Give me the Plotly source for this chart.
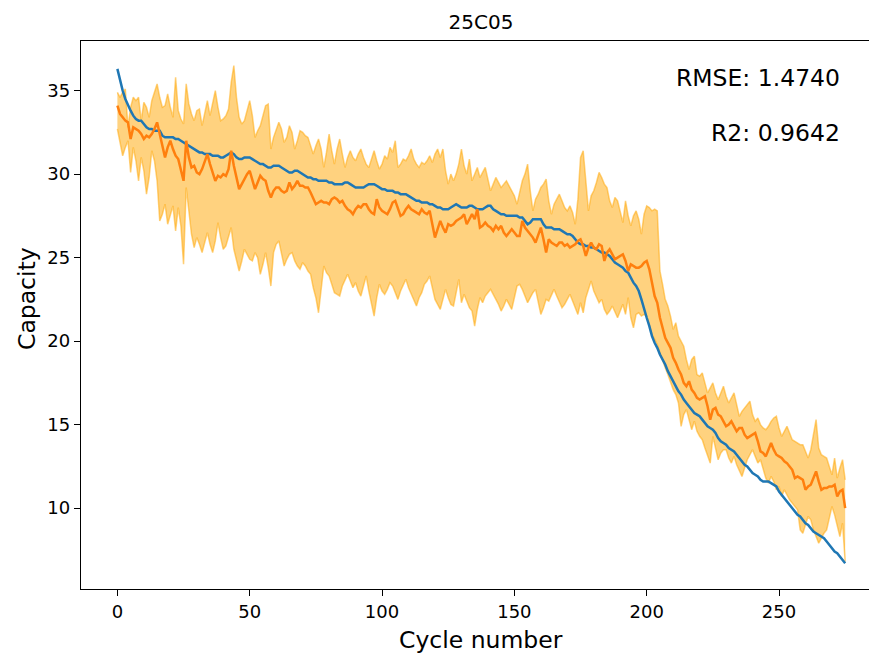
import plotly.graph_objects as go

title_text = "25C05"
x_label = "Cycle number"
y_label = "Capacity"
rmse_text = "RMSE: 1.4740"
r2_text = "R2: 0.9642"

true_capacity = [
    36.3,35.6,35.0,34.5,34.1,33.8,33.5,33.3,33.2,33.2,
    33.0,32.8,32.7,32.7,32.6,32.6,32.6,32.3,32.2,32.2,
    32.2,32.2,32.1,32.1,32.0,31.9,31.8,31.7,31.6,31.5,
    31.4,31.3,31.3,31.2,31.2,31.2,31.1,31.1,31.1,31.0,
    31.0,31.1,31.2,31.3,31.2,31.0,30.9,30.9,31.0,31.0,
    31.0,30.9,30.8,30.7,30.6,30.6,30.5,30.4,30.4,30.5,
    30.5,30.5,30.4,30.3,30.2,30.1,30.1,30.2,30.2,30.1,
    30.0,29.9,29.8,29.8,29.7,29.7,29.6,29.6,29.6,29.6,
    29.5,29.5,29.4,29.4,29.4,29.4,29.5,29.5,29.4,29.3,
    29.2,29.2,29.2,29.2,29.3,29.4,29.4,29.4,29.3,29.2,
    29.1,29.1,29.0,29.0,29.0,28.9,28.9,28.8,28.8,28.8,
    28.7,28.6,28.5,28.4,28.4,28.3,28.3,28.3,28.2,28.2,
    28.1,28.0,28.0,27.9,27.9,27.9,28.0,28.1,28.2,28.1,
    28.0,28.0,28.0,28.1,28.1,28.0,27.9,27.9,27.9,28.0,
    28.1,28.1,27.9,27.8,27.7,27.6,27.6,27.5,27.5,27.5,
    27.5,27.5,27.4,27.4,27.2,27.0,27.1,27.3,27.3,27.3,
    27.3,27.0,26.8,26.8,26.8,26.7,26.7,26.7,26.6,26.5,
    26.4,26.4,26.3,26.1,25.9,25.8,25.8,25.7,25.7,25.6,
    25.6,25.5,25.4,25.3,25.3,25.2,25.1,24.9,24.7,24.6,
    24.5,24.4,24.2,24.1,23.8,23.5,23.3,23.0,22.5,21.9,
    21.4,20.9,20.3,19.9,19.6,19.2,18.9,18.6,18.2,17.9,
    17.6,17.3,17.0,16.8,16.5,16.3,16.1,15.9,15.7,15.6,
    15.5,15.3,15.1,14.9,14.8,14.7,14.5,14.2,14.0,13.9,
    13.8,13.6,13.5,13.4,13.2,13.0,12.8,12.6,12.5,12.3,
    12.1,12.0,11.9,11.7,11.6,11.6,11.6,11.5,11.4,11.3,
    11.0,10.8,10.6,10.4,10.2,10.0,9.8,9.6,9.5,9.3,
    9.1,9.0,8.8,8.6,8.5,8.4,8.3,8.2,8.0,7.8,
    7.6,7.4,7.3,7.1,6.9,6.7,
]

pred_capacity = [
    34.1,33.6,33.4,33.2,33.1,32.1,32.8,32.7,32.6,32.4,
    32.1,32.3,32.2,32.4,32.7,33.1,32.4,31.6,31.0,31.6,
    32.0,31.5,31.1,30.9,30.3,29.6,32.0,31.0,30.4,30.5,
    30.1,30.0,30.3,30.8,31.2,30.6,30.1,29.6,29.9,29.8,
    30.0,29.9,30.3,31.4,30.5,29.8,29.1,29.4,29.7,30.0,
    30.2,29.6,29.1,29.5,29.9,29.7,29.6,29.0,28.6,29.0,
    29.2,29.2,29.0,28.9,29.0,29.5,29.1,29.3,29.6,29.3,
    29.3,29.2,29.2,28.9,28.5,28.2,28.3,28.4,28.3,28.3,
    28.2,28.5,28.6,28.5,28.3,28.4,28.1,27.9,27.8,27.6,
    27.9,28.1,28.0,28.2,28.2,27.9,27.7,27.6,28.5,28.0,
    27.8,27.7,27.6,27.9,28.3,28.4,28.0,27.5,27.6,27.9,
    28.1,27.9,27.8,27.7,27.6,27.9,27.7,27.6,27.8,27.0,
    26.2,26.7,27.2,26.8,26.5,27.0,26.9,27.0,27.2,27.3,
    27.4,27.6,27.0,27.3,27.6,27.3,27.9,26.8,26.9,27.1,
    26.9,26.8,26.6,26.9,26.7,26.9,26.5,26.3,26.5,26.7,
    26.5,26.3,26.3,27.2,26.8,26.6,26.4,26.2,25.9,26.3,
    26.8,26.1,25.3,26.1,25.9,25.8,25.7,25.9,25.9,25.7,
    25.8,25.6,25.7,25.8,26.0,26.1,25.7,25.1,25.6,25.9,
    25.6,25.5,25.8,25.7,24.8,25.3,25.5,25.2,24.9,25.0,
    25.1,25.2,24.8,24.2,24.6,24.5,24.4,24.4,24.5,24.7,
    24.8,24.3,23.6,22.7,22.3,21.4,20.8,20.2,19.9,19.6,
    19.0,18.7,18.3,18.0,17.5,17.3,17.6,17.1,16.9,16.6,
    16.5,16.6,16.7,16.1,15.3,15.9,16.0,15.6,15.5,15.2,
    14.9,15.0,15.2,14.9,14.6,14.8,14.8,14.4,14.2,14.3,
    14.4,14.5,14.0,13.4,13.3,13.1,13.5,13.9,13.5,13.2,
    13.1,13.0,12.8,12.7,12.5,12.3,11.8,11.9,11.8,11.7,
    11.1,11.3,11.4,11.8,12.2,11.6,11.1,11.2,11.2,11.3,
    11.3,11.4,10.7,11.0,11.1,10.0,
]

upper_bound = [
    34.9,34.6,34.9,35.1,32.8,34.0,34.6,34.4,34.6,33.2,
    34.3,34.0,33.4,34.4,34.9,35.4,34.6,34.0,34.1,34.8,
    34.0,33.4,35.8,33.8,33.3,33.0,35.4,34.2,33.6,33.2,
    33.8,33.9,32.9,33.6,34.4,33.5,34.2,35.0,34.0,33.2,
    33.3,33.5,33.9,35.5,36.5,34.6,33.4,33.0,33.2,33.8,
    34.4,33.5,32.2,32.6,32.9,33.5,34.1,34.2,31.5,32.2,
    32.6,33.1,32.7,31.9,32.2,32.9,32.5,31.5,32.0,32.6,
    32.5,32.3,32.2,31.7,31.2,31.7,32.1,31.5,30.4,31.3,
    32.4,31.4,30.6,31.5,32.1,31.2,30.4,31.0,31.4,31.0,
    30.8,31.2,31.5,31.0,30.6,30.4,30.9,31.4,30.8,30.3,
    30.6,31.1,30.9,31.6,31.3,32.0,30.4,30.6,30.9,30.8,
    31.1,31.5,30.9,30.6,30.4,30.7,30.6,30.8,31.1,30.7,
    31.2,31.5,31.0,31.5,30.2,29.4,30.0,29.6,30.0,30.6,
    31.5,30.5,30.0,30.9,29.6,30.0,30.4,29.8,30.1,30.4,
    29.7,29.0,29.4,29.8,29.5,29.2,29.4,29.6,29.3,29.0,
    28.7,28.2,28.9,29.6,30.0,30.6,29.0,27.8,28.5,28.8,
    29.2,29.4,29.7,28.4,27.6,28.2,28.5,28.8,28.4,28.0,
    27.8,28.1,27.7,27.0,28.5,31.0,31.4,29.6,27.8,28.7,
    29.0,29.5,30.1,29.8,29.4,29.2,28.4,28.0,28.6,28.4,
    27.8,27.1,28.4,27.5,26.9,27.5,27.8,27.3,26.4,27.6,
    28.1,28.0,27.8,27.9,27.8,24.2,23.4,22.5,22.1,21.5,
    20.7,21.1,20.3,20.0,19.7,18.9,18.3,18.9,19.1,18.0,
    17.9,18.1,17.5,16.9,17.2,17.5,16.9,16.5,16.9,17.3,
    16.7,16.3,16.6,16.9,16.2,15.5,15.8,16.0,16.2,16.4,
    15.6,15.2,15.4,15.0,14.8,14.7,14.9,15.2,15.4,15.5,
    14.8,14.3,14.6,14.9,14.5,14.1,14.0,13.9,13.8,13.8,
    13.4,13.0,13.5,14.4,15.3,13.6,13.2,13.1,13.0,12.5,
    12.0,13.0,11.8,12.4,12.9,11.7,
]

lower_bound = [
    32.7,32.0,31.1,31.6,32.0,30.1,31.6,30.8,29.6,31.0,
    30.2,28.8,29.8,31.4,30.8,29.6,27.2,27.6,28.2,27.0,
    27.5,28.1,26.6,28.0,26.9,24.6,29.2,27.8,26.4,25.6,
    26.2,25.8,25.3,25.9,26.5,25.8,25.3,26.0,27.1,26.2,
    25.5,25.7,26.2,26.8,25.5,24.9,24.2,24.8,25.5,25.2,
    24.9,24.8,25.3,25.0,24.0,24.6,25.3,24.4,23.3,25.3,
    25.8,26.0,25.2,24.5,24.9,25.2,25.3,24.8,24.5,24.3,
    24.7,24.5,24.2,24.0,23.2,22.6,21.7,23.0,24.5,24.1,
    23.9,23.4,22.9,22.8,22.7,23.3,23.7,24.0,23.6,23.2,
    23.5,23.0,22.7,23.3,23.9,23.0,22.2,21.5,22.6,23.4,
    23.0,22.8,23.1,23.5,23.3,22.9,22.5,23.0,23.4,23.7,
    23.2,22.8,22.5,22.1,22.6,22.9,23.4,23.6,23.9,23.2,
    22.5,22.2,21.9,22.5,23.1,22.6,22.2,22.1,22.8,23.7,
    22.3,22.8,22.4,22.0,21.8,20.9,21.9,22.6,22.3,22.7,
    22.9,23.1,22.8,22.5,22.2,21.8,22.1,22.5,22.2,21.9,
    22.6,23.3,23.4,23.1,22.7,22.3,22.6,22.9,23.1,22.4,
    21.6,22.0,22.5,22.4,22.8,23.1,22.7,22.3,22.0,22.2,
    22.5,22.8,22.4,22.0,21.6,22.3,21.7,22.6,23.1,23.6,
    23.0,22.6,22.3,22.5,21.9,21.6,21.8,22.1,21.7,21.4,
    21.8,22.2,21.6,22.6,21.4,20.8,21.6,21.7,21.5,21.6,
    21.5,20.9,20.4,20.1,19.8,19.3,18.8,18.4,18.0,17.5,
    17.1,16.8,16.3,14.9,15.6,15.9,15.3,14.7,15.2,14.6,
    14.3,14.1,13.6,13.2,12.7,14.3,13.6,12.9,13.3,13.5,
    13.5,13.0,12.7,13.1,12.6,12.2,11.9,12.4,12.9,13.2,
    13.5,13.1,12.7,12.9,12.3,11.8,11.5,11.9,11.6,11.1,
    11.3,10.7,11.1,10.8,10.5,10.3,10.1,9.9,8.7,8.5,
    9.0,9.5,9.3,8.7,8.3,7.9,8.2,8.5,8.7,9.4,
    10.1,9.6,9.0,8.3,9.1,6.8,
]

cycles = list(range(len(true_capacity)))

FONT = "DejaVu Sans, Liberation Sans, sans-serif"
band_line = "rgba(255,165,0,0.5)"
band_fill = "rgba(255,165,0,0.5)"

fig = go.Figure()
fig.add_trace(go.Scatter(x=cycles, y=lower_bound, mode="lines",
                         line=dict(color=band_line, width=1.5),
                         showlegend=False, hoverinfo="skip"))
fig.add_trace(go.Scatter(x=cycles, y=upper_bound, mode="lines",
                         line=dict(color=band_line, width=1.5),
                         fill="tonexty", fillcolor=band_fill,
                         showlegend=False, hoverinfo="skip"))
fig.add_trace(go.Scatter(x=cycles, y=true_capacity, mode="lines",
                         line=dict(color="#1f77b4", width=2.5),
                         showlegend=False))
fig.add_trace(go.Scatter(x=cycles, y=pred_capacity, mode="lines",
                         line=dict(color="#ff7f0e", width=2.5),
                         showlegend=False))

axis_common = dict(
    showgrid=False, zeroline=False, showline=True, linecolor="black",
    linewidth=1.3, ticks="outside", ticklen=6, tickwidth=1.3,
    tickcolor="black", tickfont=dict(family=FONT, size=18, color="black"),
)

fig.update_xaxes(range=[-13.75, 284.0], tickvals=[0, 50, 100, 150, 200, 250],
                 mirror=True, **axis_common)
fig.update_yaxes(range=[5.16, 37.97], tickvals=[10, 15, 20, 25, 30, 35],
                 mirror=False, **axis_common)

fig.update_layout(
    width=869, height=657,
    margin=dict(l=81, r=0, t=41, b=68),
    paper_bgcolor="white", plot_bgcolor="white",
    font=dict(family=FONT, color="black"),
    hovermode=False,
    title=dict(text=title_text, x=481 / 869, xanchor="center",
               y=1 - 22 / 657, yanchor="middle", xref="container", yref="container",
               font=dict(family=FONT, size=20, color="black")),
    annotations=[
        dict(text=rmse_text, xref="paper", yref="paper", x=(841.5 - 81) / 788,
             y=(589.3 - 78) / 548.6, xanchor="right", yanchor="middle",
             showarrow=False, font=dict(family=FONT, size=23.5, color="black")),
        dict(text=r2_text, xref="paper", yref="paper", x=(841.5 - 81) / 788,
             y=(589.3 - 133) / 548.6, xanchor="right", yanchor="middle",
             showarrow=False, font=dict(family=FONT, size=23.5, color="black")),
        dict(text=x_label, xref="paper", yref="paper", x=(481 - 81) / 788,
             y=(589.3 - 640) / 548.6, xanchor="center", yanchor="middle",
             showarrow=False, font=dict(family=FONT, size=23.5, color="black")),
        dict(text=y_label, xref="paper", yref="paper", x=(27 - 81) / 788,
             y=(589.3 - 299) / 548.6, xanchor="center", yanchor="middle",
             textangle=-90, showarrow=False,
             font=dict(family=FONT, size=23.5, color="black")),
    ],
)

fig.write_html("out.html", config={"displayModeBar": False},
               post_script="document.body.style.margin='0';document.body.style.padding='0';")
